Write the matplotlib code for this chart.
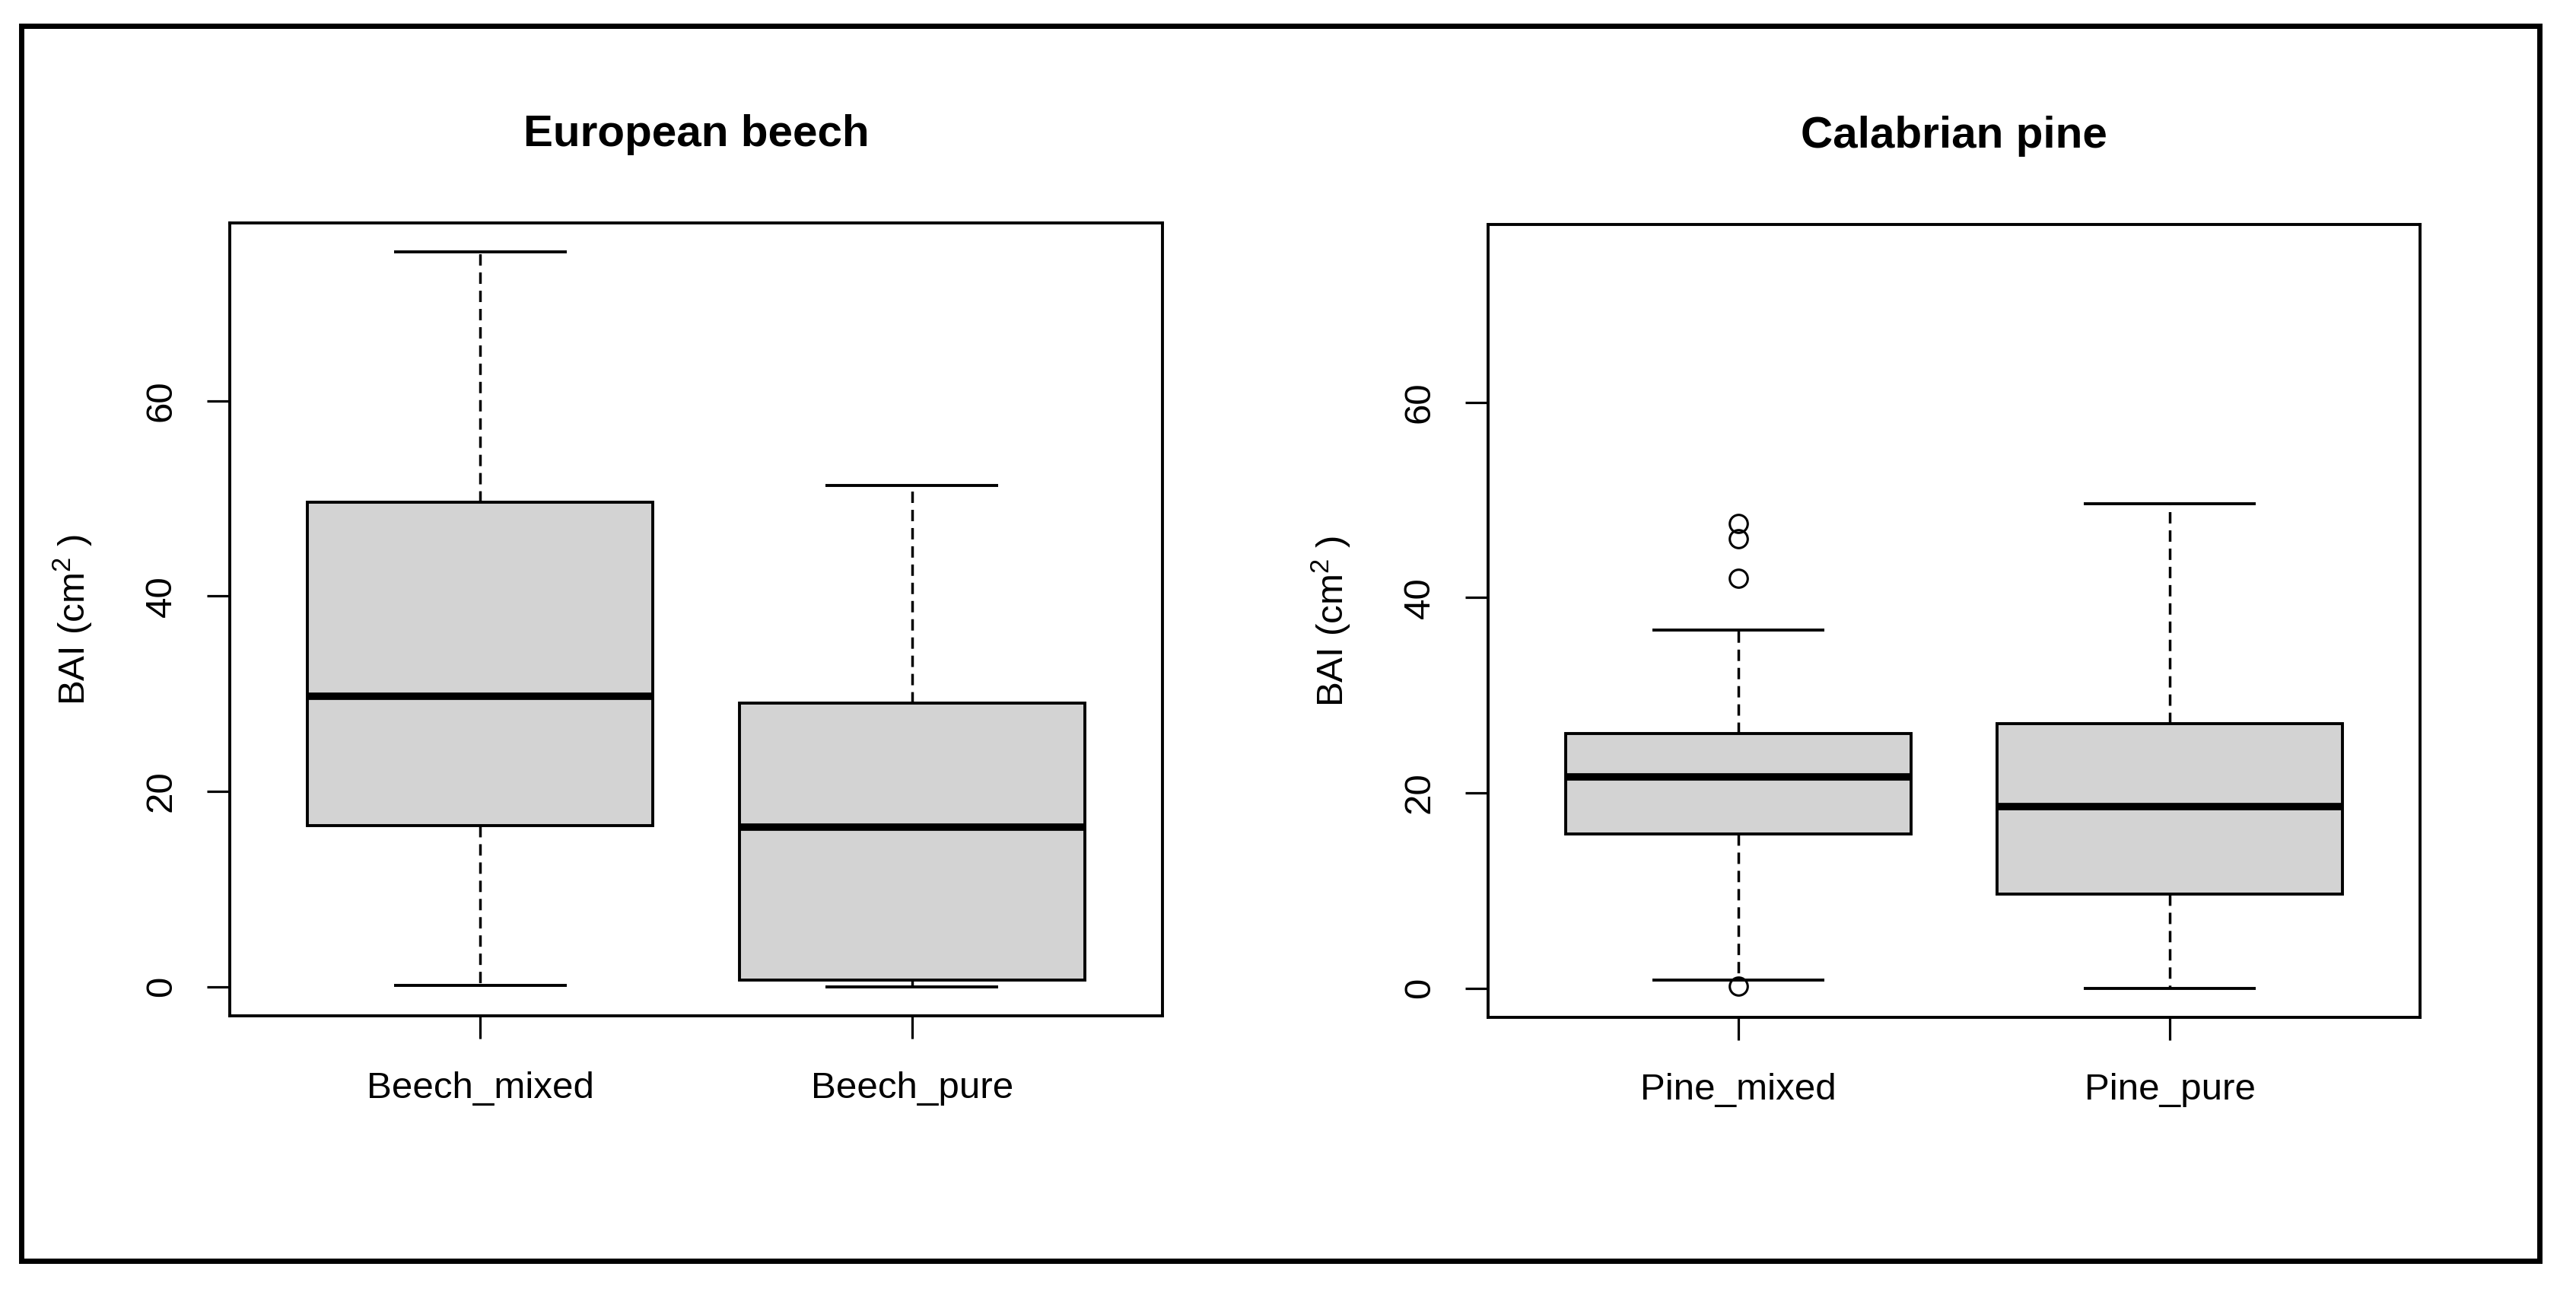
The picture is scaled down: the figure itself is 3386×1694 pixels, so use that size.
import matplotlib
matplotlib.use("Agg")
import matplotlib.pyplot as plt
from matplotlib.patches import Rectangle

plt.rcParams['font.family'] = ['Liberation Sans', 'DejaVu Sans']
plt.rcParams['mathtext.fontset'] = 'custom'
plt.rcParams['mathtext.rm'] = 'Liberation Sans'
plt.rcParams['mathtext.it'] = 'Liberation Sans:italic'
plt.rcParams['mathtext.bf'] = 'Liberation Sans:bold'
plt.rcParams['mathtext.default'] = 'regular'

# ---------------- data ----------------
panel_titles = ["European beech", "Calabrian pine"]
y_label = r"BAI (cm$^{2}$ )"
y_ticks = [0, 20, 40, 60]

beech_groups = ["Beech_mixed", "Beech_pure"]
beech_whislo = [0.1, 0.0]
beech_q1 = [16.5, 0.7]
beech_med = [29.7, 16.3]
beech_q3 = [49.6, 29.0]
beech_whishi = [75.2, 51.3]
beech_fliers = [[], []]

pine_groups = ["Pine_mixed", "Pine_pure"]
pine_whislo = [0.8, 0.0]
pine_q1 = [15.8, 9.6]
pine_med = [21.6, 18.6]
pine_q3 = [26.1, 27.1]
pine_whishi = [36.7, 49.6]
pine_fliers = [[0.2, 42.0, 46.0, 47.6], []]

panels = [
    (beech_groups, beech_whislo, beech_q1, beech_med, beech_q3, beech_whishi, beech_fliers),
    (pine_groups, pine_whislo, pine_q1, pine_med, pine_q3, pine_whishi, pine_fliers),
]

# ---------------- figure ----------------
W, H = 3387, 1694
DPI = 100
fig = plt.figure(figsize=(W / DPI, H / DPI), dpi=DPI)
fig.patch.set_facecolor("white")

axes_px = [(302, 1528, 293, 1335), (1956, 3181, 295, 1337)]

TICK_FS = 35.5
TITLE_FS = 42
LW = 2.8
YLABEL_OFFSET_PX = 190   # baseline of y label, left of the axes

for (groups, wlo, q1, med, q3, whi, fl), title, (x0, x1, yt, yb) in zip(panels, panel_titles, axes_px):
    ax = fig.add_axes([x0 / W, 1 - yb / H, (x1 - x0) / W, (yb - yt) / H])
    stats = []
    for i, g in enumerate(groups):
        stats.append(dict(label=g, whislo=wlo[i], q1=q1[i], med=med[i], q3=q3[i],
                          whishi=whi[i], fliers=fl[i]))
    positions = list(range(1, len(groups) + 1))
    ax.bxp(stats, positions=positions, widths=0.8, capwidths=0.4, patch_artist=True,
           manage_ticks=False,
           boxprops=dict(facecolor="#D3D3D3", edgecolor="black", linewidth=LW),
           medianprops=dict(color="black", linewidth=7, solid_capstyle="butt"),
           whiskerprops=dict(color="black", linewidth=2.5, linestyle=(0, (4.3, 2.6))),
           capprops=dict(color="black", linewidth=LW, solid_capstyle="butt"),
           flierprops=dict(marker="o", markerfacecolor="none", markeredgecolor="black",
                           markersize=17, markeredgewidth=2.2, linestyle="none"))
    n = len(groups)
    lo, hi = 0.5, n + 0.5
    ext = (hi - lo) * 0.04
    ax.set_xlim(lo - ext, hi + ext)
    ax.set_ylim(-3.0, 78.2)

    ax.set_xticks(positions)
    ax.set_xticklabels(groups, fontsize=TICK_FS)
    ax.set_yticks(y_ticks)
    ax.set_yticklabels([str(t) for t in y_ticks], fontsize=TICK_FS, rotation=90,
                       ha="center", va="center")
    ax.tick_params(axis="both", direction="out", length=21.6, width=2.3, color="black")
    ax.tick_params(axis="x", pad=31)
    ax.tick_params(axis="y", pad=43)

    for sp in ax.spines.values():
        sp.set_linewidth(LW)
        sp.set_color("black")

    ax.set_title(title, fontsize=TITLE_FS, fontweight="bold", pad=72.7)
    ax.set_ylabel(y_label, fontsize=TICK_FS, fontweight="normal", va="baseline")
    ax.yaxis.set_label_coords(-YLABEL_OFFSET_PX / (x1 - x0), 0.5)

# outer frame
fx0, fx1 = 27.5 / W, 3338 / W
fy0, fy1 = 1 - 1657 / H, 1 - 34 / H
fig.add_artist(Rectangle((fx0, fy0), fx1 - fx0, fy1 - fy0, transform=fig.transFigure,
                         fill=False, edgecolor="black", linewidth=5, joinstyle="miter"))

fig.savefig("out.png", dpi=DPI, facecolor="white")
